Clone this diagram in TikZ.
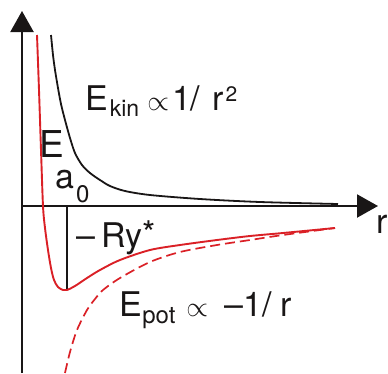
\documentclass[tikz,border=0pt]{standalone}
\usepackage{fix-cm}
\usepackage{fontspec}
\setmainfont{TeX Gyre Heros}
\usetikzlibrary{arrows.meta}
\newcommand\fsz[1]{\fontsize{#1}{#1}\selectfont}
\definecolor{curvered}{RGB}{218,32,38}
\definecolor{ink}{RGB}{25,22,22}
\begin{document}
\begin{tikzpicture}[x=1pt,y=-1pt,
  axis/.style={ink,line width=2.2pt,-{Triangle[length=21pt,width=23pt]}},
  kinline/.style={ink,line width=1.8pt},
  totline/.style={curvered,line width=1.9pt},
  potline/.style={curvered,line width=1.7pt,dash pattern=on 10pt off 5pt},
  marker/.style={ink,line width=1.3pt},
  lbl/.style={ink,anchor=base west,inner sep=0pt,font=\fsz{34}}]
\useasboundingbox (0,0) rectangle (388,373);
\coordinate (O) at (22,206);
\coordinate (ybot) at (22,373);
\coordinate (ytip) at (22,11);
\coordinate (xtip) at (378,206);
\coordinate (mintop) at (67,206);
\coordinate (minbot) at (67,290);
\draw[axis] (ybot) -- (ytip);
\draw[axis] (O) -- (xtip);
\draw[marker] (mintop) -- (minbot);
\draw[kinline] plot[smooth] coordinates {(51,35) (53,55) (55,70) (58,88) (61,104) (65,120) (70,138) (75,153) (82,165) (90,173) (100,180) (110,186) (125,191) (150,195) (200,199) (260,202) (338,204)};
\draw[totline] plot[smooth] coordinates {(37,35) (39,90) (41,150) (43,206) (45,228) (48,250) (51,268) (54,280) (58,287) (63,290) (67,290) (75,286) (87,278) (100,270) (120,260) (150,250) (180,245) (217,240) (250,236) (283,233) (335,228)};
\draw[potline] plot[smooth] coordinates {(65,373) (70,352) (77,330) (87,310) (95,299) (103,290) (120,278) (150,262) (180,252) (217,245) (250,240) (283,235) (335,228)};
\node[lbl] (ekin) at (85,110) {E\hspace{2pt}\raisebox{-6pt}{\fsz{23}kin}\hspace{8pt}{\fsz{28}$\propto$}\hspace{3pt}1/\hspace{12pt}r\hspace{2pt}\raisebox{9pt}{\fsz{21}2}};
\node[lbl,font=\fsz{37}] (elabel) at (39,157) {E};
\node[lbl] (a0) at (55,188) {a\hspace{2pt}\raisebox{-14pt}{\fsz{24}0}};
\node[lbl] (ry) at (76,247) {–\hspace{6pt}Ry\raisebox{2pt}{*}};
\node[lbl] (epot) at (119.5,316) {E\raisebox{-7pt}{\fsz{24}pot}\hspace{11pt}{\fsz{28}$\propto$}\hspace{16pt}–1/\hspace{9pt}r};
\node[lbl] (rlabel) at (376,233) {r};
\end{tikzpicture}
\end{document}
